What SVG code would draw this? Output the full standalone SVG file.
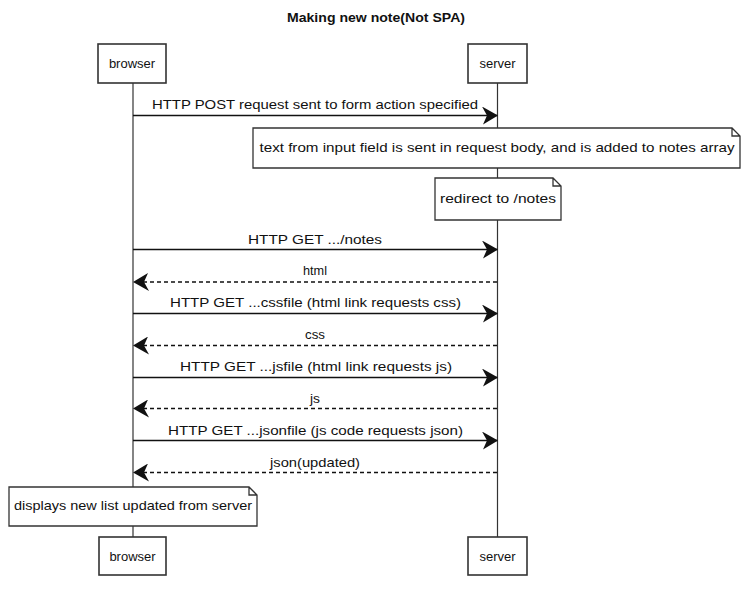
<svg xmlns="http://www.w3.org/2000/svg" width="749" height="596" viewBox="0 0 749 596">
<style>
text{font-family:"Liberation Sans","DejaVu Sans",sans-serif;font-size:13px;fill:#111;text-anchor:middle}
.title{font-weight:bold;font-size:13px}
.box{fill:#fff;stroke:#333;stroke-width:1.6}
.note{fill:#fff;stroke:#333;stroke-width:1.3}
.life{stroke:#333;stroke-width:1.2;fill:none}
.msg{stroke:#111;stroke-width:1.4;fill:none}
.ret{stroke:#111;stroke-width:1.3;fill:none;stroke-dasharray:4 3}
</style>
<defs>
<marker id="ah" viewBox="0 0 16 18" refX="15" refY="9" markerWidth="16" markerHeight="18" markerUnits="userSpaceOnUse" orient="auto-start-reverse">
<path d="M0,0 L16,9 L1,18 L5,9 Z" fill="#111"/>
</marker>
</defs>
<rect width="749" height="596" fill="#fff"/>
<text class="title" x="376" y="22" textLength="178" lengthAdjust="spacingAndGlyphs">Making new note(Not SPA)</text>
<g id="lifelines">
<line class="life" x1="133" y1="83" x2="133" y2="537"/>
<line class="life" x1="497.5" y1="83" x2="497.5" y2="537"/>
</g>
<g id="browser-top"><rect class="box" x="98" y="44" width="68" height="39"/><text x="132" y="68">browser</text></g>
<g id="server-top"><rect class="box" x="468" y="44" width="59" height="39"/><text x="497.5" y="68">server</text></g>
<g id="browser-bottom"><rect class="box" x="99" y="537" width="67" height="38"/><text x="132.5" y="561">browser</text></g>
<g id="server-bottom"><rect class="box" x="468" y="537" width="59" height="38"/><text x="497.5" y="561">server</text></g>
<g id="connectors">
<line class="msg" x1="133" y1="115.5" x2="497" y2="115.5" marker-end="url(#ah)"/>
<text x="315" y="109" textLength="326" lengthAdjust="spacingAndGlyphs">HTTP POST request sent to form action specified</text>
<line class="msg" x1="133" y1="249.5" x2="497" y2="249.5" marker-end="url(#ah)"/>
<text x="315" y="244" textLength="134" lengthAdjust="spacingAndGlyphs">HTTP GET .../notes</text>
<line class="ret" x1="497" y1="282" x2="134" y2="282" marker-end="url(#ah)"/>
<text x="315" y="275" textLength="24" lengthAdjust="spacingAndGlyphs">html</text>
<line class="msg" x1="133" y1="313.5" x2="497" y2="313.5" marker-end="url(#ah)"/>
<text x="315.5" y="307" textLength="291" lengthAdjust="spacingAndGlyphs">HTTP GET ...cssfile (html link requests css)</text>
<line class="ret" x1="497" y1="345.5" x2="134" y2="345.5" marker-end="url(#ah)"/>
<text x="315" y="339" textLength="20" lengthAdjust="spacingAndGlyphs">css</text>
<line class="msg" x1="133" y1="377.5" x2="497" y2="377.5" marker-end="url(#ah)"/>
<text x="316" y="371" textLength="272" lengthAdjust="spacingAndGlyphs">HTTP GET ...jsfile (html link requests js)</text>
<line class="ret" x1="497" y1="408.5" x2="134" y2="408.5" marker-end="url(#ah)"/>
<text x="315" y="403" textLength="10" lengthAdjust="spacingAndGlyphs">js</text>
<line class="msg" x1="133" y1="440.5" x2="497" y2="440.5" marker-end="url(#ah)"/>
<text x="315.5" y="435" textLength="295" lengthAdjust="spacingAndGlyphs">HTTP GET ...jsonfile (js code requests json)</text>
<line class="ret" x1="497" y1="472.5" x2="134" y2="472.5" marker-end="url(#ah)"/>
<text x="315" y="467" textLength="90" lengthAdjust="spacingAndGlyphs">json(updated)</text>
</g>
<g id="note-body">
<path class="note" d="M253,128 L732,128 L740,136 L740,168 L253,168 Z M732,128 L732,136 L740,136"/>
<text x="497" y="152" textLength="475" lengthAdjust="spacingAndGlyphs">text from input field is sent in request body, and is added to notes array</text>
</g>
<g id="note-redirect">
<path class="note" d="M435,178 L553,178 L561,186 L561,220 L435,220 Z M553,178 L553,186 L561,186"/>
<text x="498" y="203" textLength="116" lengthAdjust="spacingAndGlyphs">redirect to /notes</text>
</g>
<g id="note-display">
<path class="note" d="M9,487 L249,487 L257,495 L257,526 L9,526 Z M249,487 L249,495 L257,495"/>
<text x="133" y="510" textLength="238" lengthAdjust="spacingAndGlyphs">displays new list updated from server</text>
</g>
</svg>
